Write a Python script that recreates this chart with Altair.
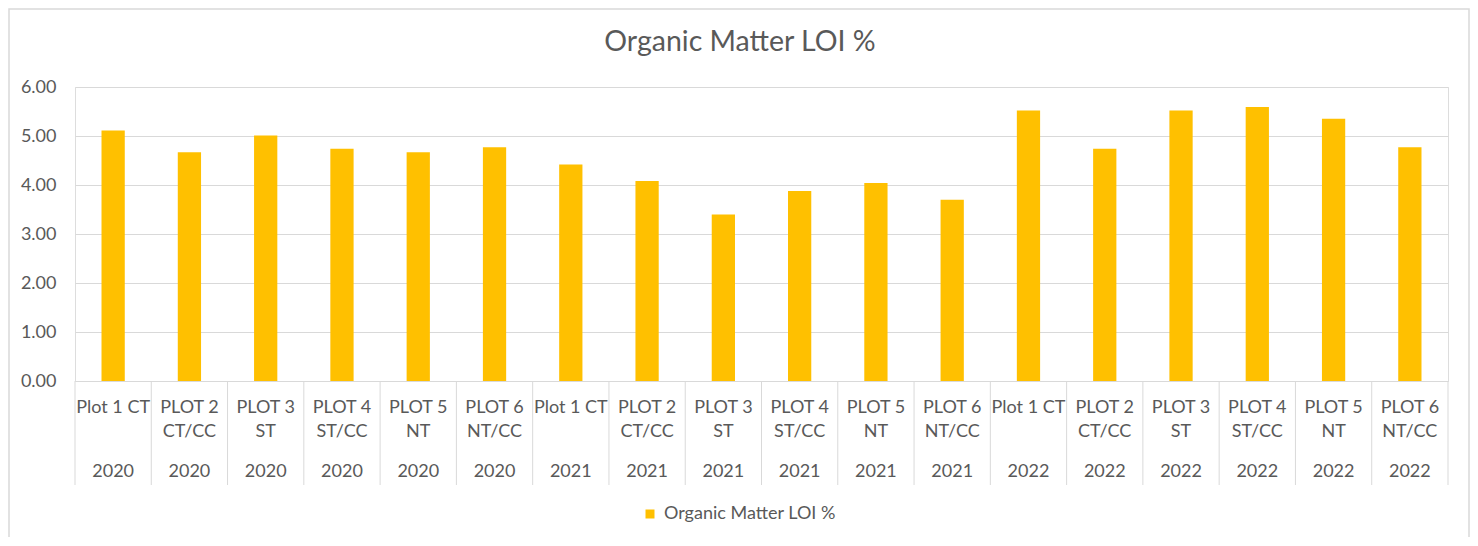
import altair as alt
import pandas as pd

years = ["2020"] * 6 + ["2021"] * 6 + ["2022"] * 6
plots = [
    "Plot 1 CT", "PLOT 2\nCT/CC", "PLOT 3\nST", "PLOT 4\nST/CC", "PLOT 5\nNT", "PLOT 6\nNT/CC",
    "Plot 1 CT", "PLOT 2\nCT/CC", "PLOT 3\nST", "PLOT 4\nST/CC", "PLOT 5\nNT", "PLOT 6\nNT/CC",
    "Plot 1 CT", "PLOT 2\nCT/CC", "PLOT 3\nST", "PLOT 4\nST/CC", "PLOT 5\nNT", "PLOT 6\nNT/CC",
]
values = [5.11, 4.67, 5.01, 4.74, 4.67, 4.77,
          4.42, 4.08, 3.40, 3.88, 4.04, 3.70,
          5.52, 4.74, 5.52, 5.59, 5.35, 4.77]
series_name = "Organic Matter LOI %"
y_ticks = [0, 1, 2, 3, 4, 5, 6]

keys = [f"{y}|{p}" for y, p in zip(years, plots)]
df = pd.DataFrame({"key": keys, "year": years, "plot": plots, "value": values,
                   "series": [series_name] * len(values)})

W, H = 1373, 294
STEP = W / len(keys)
GRAY = "#595959"
LINE = "#d9d9d9"
FONT = "Lato"

xscale = alt.Scale(domain=keys, paddingInner=0.695, paddingOuter=0.3475)

bars = alt.Chart(df).mark_bar().encode(
    x=alt.X("key:N", sort=keys, scale=xscale,
            axis=alt.Axis(title=None, labels=False, ticks=False,
                          domainColor=LINE, domainWidth=1)),
    y=alt.Y("value:Q", scale=alt.Scale(domain=[0, 6], nice=False),
            axis=alt.Axis(title=None, values=y_ticks, format=".2f", tickSize=0, domain=False,
                          gridColor=LINE, gridWidth=1, labelPadding=19,
                          labelFontSize=18, labelColor=GRAY, labelFont=FONT)),
    color=alt.Color("series:N", scale=alt.Scale(range=["#FFC000"]),
                    legend=alt.Legend(title=None, orient="none", legendX=566, legendY=418,
                                      symbolType="square", symbolSize=81, symbolStrokeWidth=0,
                                      labelFontSize=18, labelColor=GRAY, labelFont=FONT,
                                      labelOffset=5, labelLimit=500)),
)

# category separators (left edge of each category, plus the closing right edge)
sep_left = alt.Chart(df).mark_rule(color=LINE, strokeWidth=1, xOffset=-STEP / 2).encode(
    x=alt.X("key:N", sort=keys), y=alt.value(H), y2=alt.value(H + 104))
sep_right = alt.Chart(df.tail(1)).mark_rule(color=LINE, strokeWidth=1, xOffset=STEP / 2).encode(
    x=alt.X("key:N", sort=keys), y=alt.value(H), y2=alt.value(H + 104))

plot_labels = alt.Chart(df).mark_text(
    baseline="middle", align="center", lineBreak="\n", lineHeight=24,
    fontSize=18, font=FONT, color=GRAY
).encode(x=alt.X("key:N", sort=keys), y=alt.value(321), text="plot:N")

year_labels = alt.Chart(df).mark_text(
    baseline="middle", align="center", fontSize=18, font=FONT, color=GRAY
).encode(x=alt.X("key:N", sort=keys), y=alt.value(385), text="year:N")

title_df = pd.DataFrame({"t": [series_name]})
title = alt.Chart(title_df).mark_text(
    baseline="middle", align="center", fontSize=28.5, font=FONT, color=GRAY
).encode(x=alt.value(665), y=alt.value(-45), text="t:N")

frame = alt.Chart(title_df).mark_rect(fillOpacity=0, fill="white", stroke="#d9d9d9",
                                      strokeWidth=1.5, strokeOpacity=1).encode(
    x=alt.value(-66), x2=alt.value(1394), y=alt.value(-78), y2=alt.value(620))

chart = alt.layer(frame, bars, sep_left, sep_right, plot_labels, year_labels, title).properties(
    width=W, height=H,
    padding={"left": 67, "top": 79, "right": 22, "bottom": 156},
    autosize=alt.AutoSizeParams(type="none"),
).configure_view(stroke=None).configure(background="white")

chart.save("out.html", embed_options={"renderer": "svg", "actions": False})
